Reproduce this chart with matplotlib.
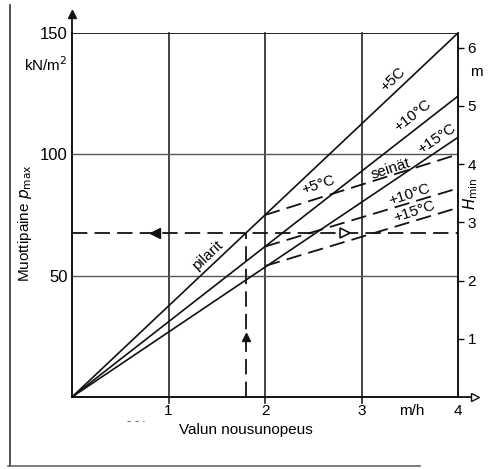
import numpy as np
import matplotlib.pyplot as plt
from matplotlib.lines import Line2D

plt.rcParams['font.family'] = ['Liberation Sans', 'DejaVu Sans']

# nousunopeus m/h and pmax kN/m2
x_ticks = [1, 2, 3, 4]
y_ticks = [50, 100, 150]
h_ticks = [1, 2, 3, 4, 5, 6]

# pilarit (solid lines), from origin to x=4
pil_x = [0, 4]
pil_5 = [0, 150]
pil_10 = [0, 124]
pil_15 = [0, 107]

# seinat (dashed lines), from x=2 to x=4
sei_x = [2, 4]
sei_5 = [75, 100]
sei_10 = [62, 86]
sei_15 = [54, 78]

# example reading
ex_v = 1.8
ex_p = 67.5

fig = plt.figure(figsize=(4.88, 4.69), dpi=100)
ax = fig.add_axes([72/488, 1-397/469, (458-72)/488, (397-33)/469])
ax.set_xlim(0, 4)
ax.set_ylim(0, 150)

ax.spines['top'].set_visible(False)
for s in ['left', 'bottom', 'right']:
    ax.spines[s].set_linewidth(1.3)

# grid
for xv in x_ticks[:-1]:
    ax.plot([xv, xv], [-2.5, 150], color='#222222', lw=1.2, clip_on=False)
ax.axhline(150, color='#222222', lw=1.4)
for yv in y_ticks[:-1]:
    ax.axhline(yv, color='#555555', lw=1.0)

# lines
k = dict(color='#111111', lw=1.2)
ax.plot(pil_x, pil_5, **k)
ax.plot(pil_x, pil_10, **k)
ax.plot(pil_x, pil_15, **k)
d = dict(color='#111111', lw=1.3, linestyle=(0, (8.5, 4)))
ax.plot(sei_x, sei_5, **d)
ax.plot(sei_x, sei_10, **d)
ax.plot(sei_x, sei_15, **d)

# example dashed lines
ax.plot([0, 4], [ex_p, ex_p], **d)
ax.plot([ex_v, ex_v], [0, ex_p], **d)
ax.plot([0.86], [ex_p], marker='<', ms=7, color='#111111')
ax.plot([2.83], [ex_p], marker='>', ms=7, mfc='white', mec='#111111', mew=1.2)
ax.plot([ex_v], [24.6], marker='^', ms=6, color='#111111')

# axis arrows
ax.plot([0, 0], [150, 158], color='#111111', lw=1.3, clip_on=False)
ax.plot([0], [158], marker='^', ms=6, color='#111111', clip_on=False)
ax.plot([4, 4.18], [0, 0], color='#111111', lw=1.3, clip_on=False)
ax.plot([4.18], [0], marker='>', ms=6, mfc='white', mec='#111111', clip_on=False)

# labels on lines
fs = 11
ax.text(3.33, 131, '+5C', rotation=43, ha='center', va='center', fontsize=fs)
ax.text(3.53, 116, '+10°C', rotation=38, ha='center', va='center', fontsize=fs)
ax.text(3.78, 106.5, '+15°C', rotation=34, ha='center', va='center', fontsize=fs)
ax.text(1.40, 58.5, 'pilarit', rotation=43, ha='center', va='center', fontsize=fs)
ax.text(3.30, 94, 'seinät', rotation=18, ha='center', va='center', fontsize=fs)
ax.text(2.55, 87.5, '+5°C', rotation=18, ha='center', va='center', fontsize=fs)
ax.text(3.50, 83.5, '+10°C', rotation=18, ha='center', va='center', fontsize=fs)
ax.text(3.55, 76.5, '+15°C', rotation=18, ha='center', va='center', fontsize=fs)

# ticks
ax.set_xticks(x_ticks)
ax.set_xticklabels([str(v) for v in x_ticks], fontsize=11)
ax.set_yticks(y_ticks)
ax.set_yticklabels([str(v) for v in y_ticks], fontsize=12)
ax.tick_params(axis='x', length=0, pad=5)
ax.tick_params(axis='y', length=0, pad=3)
ax.text(3.52, -3, 'm/h', ha='center', va='top', fontsize=11)
ax.text(-0.05, 137, 'kN/m$^2$', ha='right', va='center', fontsize=11)

sec = ax.secondary_yaxis('right', functions=(lambda p: p / 24, lambda h: h * 24))
sec.set_yticks(h_ticks)
sec.set_yticklabels([str(v) for v in h_ticks], fontsize=11)
sec.spines['right'].set_visible(False)
sec.tick_params(length=4, width=1, pad=3)
ax.text(4.12, 134, 'm', ha='left', va='center', fontsize=11, clip_on=False)
ax.text(4.03, 84, '$H_{\\mathrm{min}}$', rotation=90, ha='left', va='center',
        fontsize=11, clip_on=False)

fig.text(25/488, 1-223/469, 'Muottipaine $p_{\\mathrm{max}}$', rotation=90,
         ha='center', va='center', fontsize=11)
fig.text(246/488, 1-430/469, 'Valun nousunopeus', ha='center', va='center', fontsize=11)

# scanned page frame and specks
fig.add_artist(Line2D([10/488, 10/488], [1-5/469, 1-466/469], color='#333333', lw=1.2))
fig.add_artist(Line2D([8/488, 420/488], [1-466/469, 1-466/469], color='#666666', lw=1.2))
fig.add_artist(Line2D([127/488, 144/488], [1-421/469, 1-421/469], color='#777777',
                      lw=0.8, linestyle=(0, (3, 4))))

fig.savefig('out.png', dpi=100)
